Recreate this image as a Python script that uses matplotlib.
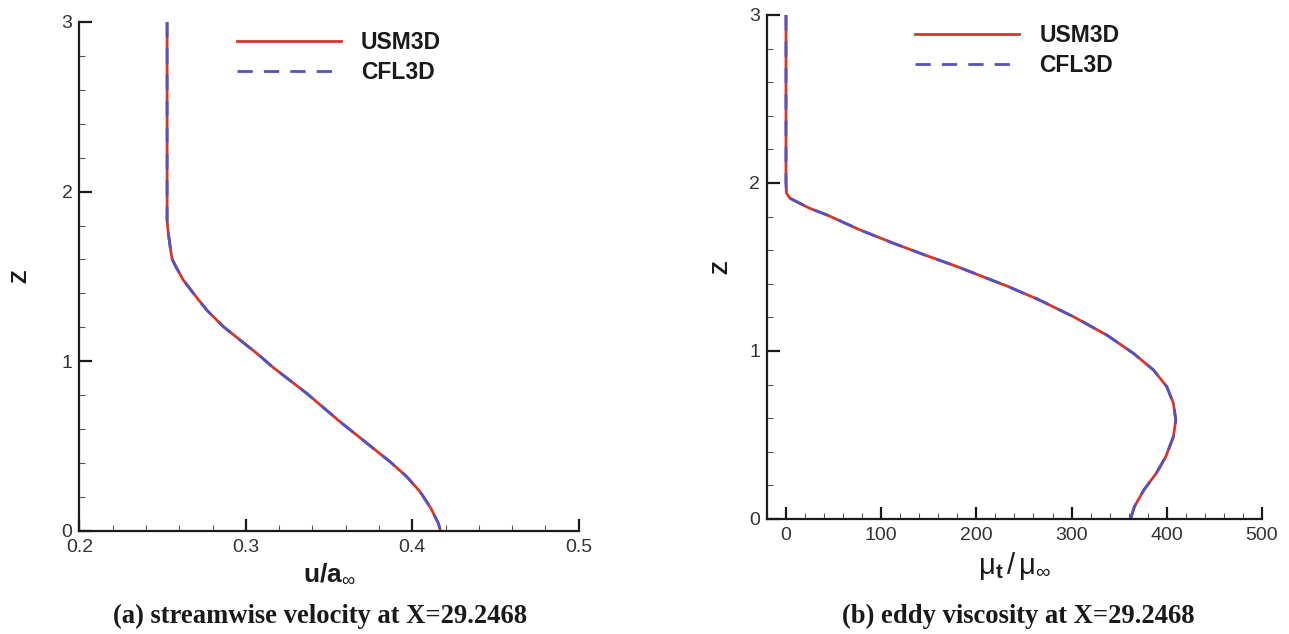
import numpy as np
import matplotlib
matplotlib.use("Agg")
import matplotlib.pyplot as plt
from matplotlib.ticker import MultipleLocator

plt.rcParams['font.family'] = ['Liberation Sans', 'DejaVu Sans']
plt.rcParams['mathtext.fontset'] = 'custom'
plt.rcParams['mathtext.rm'] = 'Liberation Sans'
plt.rcParams['mathtext.bf'] = 'Liberation Sans:bold'
plt.rcParams['mathtext.it'] = 'Liberation Sans:italic'
plt.rcParams['lines.scale_dashes'] = False

# streamwise velocity profile u/a_inf vs Z
z_vel = [3.0, 2.5, 2.0, 1.83, 1.774, 1.656, 1.6, 1.557, 1.479, 1.401, 1.302, 1.204,
         1.11, 1.047, 0.963, 0.811, 0.644, 0.487, 0.408, 0.32, 0.232, 0.134, 0.045, 0.0]
u_usm = [0.2527, 0.2527, 0.2527, 0.2527, 0.2532, 0.2548, 0.2558, 0.258, 0.2624, 0.2685,
         0.2765, 0.2865, 0.2985, 0.3066, 0.3165, 0.3366, 0.3566, 0.3766, 0.3867, 0.3967,
         0.4047, 0.4112, 0.4157, 0.417]
u_cfl = list(u_usm)

# eddy viscosity profile mu_t/mu_inf vs Z
z_visc = [3.0, 2.5, 2.0, 1.939, 1.909, 1.889, 1.849, 1.81, 1.72, 1.641, 1.571, 1.502,
          1.433, 1.387, 1.304, 1.204, 1.095, 0.986, 0.887, 0.788, 0.689, 0.589, 0.49,
          0.371, 0.272, 0.173, 0.073, 0.0]
mu_usm = [0.0, 0.0, 0.0, 0.5, 4.2, 11.0, 25.0, 43.0, 78.0, 113.0, 146.0, 180.0,
          211.0, 232.0, 266.0, 302.0, 337.0, 365.0, 386.0, 400.0, 407.0, 409.5, 407.0,
          399.0, 389.0, 376.0, 366.0, 362.0]
mu_cfl = list(mu_usm)

red = '#d8362a'
blue = '#5252c4'
ink = '#1a1a1a'

fig = plt.figure(figsize=(12.89, 6.34), dpi=100)
ax1 = fig.add_axes([0.0616, 0.1625, 0.3873, 0.803])
ax2 = fig.add_axes([0.595, 0.1814, 0.384, 0.795])


def style_axes(ax, xmaj, xmin):
    for s in ['top', 'right']:
        ax.spines[s].set_visible(False)
    for s in ['left', 'bottom']:
        ax.spines[s].set_linewidth(1.6)
        ax.spines[s].set_color(ink)
    ax.xaxis.set_major_locator(MultipleLocator(xmaj))
    ax.xaxis.set_minor_locator(MultipleLocator(xmin))
    ax.yaxis.set_major_locator(MultipleLocator(1))
    ax.yaxis.set_minor_locator(MultipleLocator(0.2))
    ax.tick_params(which='major', direction='in', length=9, width=1.6,
                   color=ink, labelsize=14, labelcolor='#333333')
    ax.tick_params(axis='x', which='major', pad=6)
    ax.tick_params(axis='y', which='major', pad=5)
    ax.tick_params(which='minor', direction='in', length=4.5, width=0.8, color='#555555')
    ax.set_ylim(0, 3)


def draw(ax, x1, y1, x2, y2, anchor):
    ax.plot(x1, y1, color=red, lw=2.0, label='USM3D', solid_joinstyle='round')
    ax.plot(x2, y2, color=blue, lw=2.0, dashes=(11, 8), label='CFL3D')
    leg = ax.legend(frameon=False, fontsize=16.5, handlelength=4.55, handletextpad=0.87,
                    labelspacing=0.3, borderaxespad=0, loc='upper left',
                    bbox_to_anchor=anchor)
    for t in leg.get_texts():
        t.set_fontweight('bold')
        t.set_color(ink)


draw(ax1, u_usm, z_vel, u_cfl, z_vel, (0.297, 1.0))
style_axes(ax1, 0.1, 0.02)
ax1.set_xlim(0.2, 0.5)
ax1.xaxis.set_major_formatter(plt.FuncFormatter(lambda v, p: f'{v:.1f}'))
ax1.set_xlabel(r'$\mathbf{u/a}_{\infty}$', fontsize=19, color=ink, labelpad=4)
ax1.set_ylabel('Z', fontsize=16, fontweight='bold', color=ink, labelpad=22)

draw(ax2, mu_usm, z_visc, mu_cfl, z_visc, (0.281, 1.0))
style_axes(ax2, 100, 20)
ax2.set_xlim(-20, 500)
ax2.set_xlabel(r'$\mathrm{\mu}_{\mathbf{t}}\,/\,\mathrm{\mu}_{\infty}$', fontsize=21,
               color=ink, labelpad=4)
ax2.set_ylabel('Z', fontsize=16, fontweight='bold', color=ink, labelpad=12)

fig.text(0.248, 0.018, '(a) streamwise velocity at X=29.2468', ha='center', va='baseline',
         family='Liberation Serif', fontweight='bold', fontsize=19.2, color=ink)
fig.text(0.79, 0.018, '(b) eddy viscosity at X=29.2468', ha='center', va='baseline',
         family='Liberation Serif', fontweight='bold', fontsize=19.2, color=ink)

fig.savefig('out.png', dpi=100)
